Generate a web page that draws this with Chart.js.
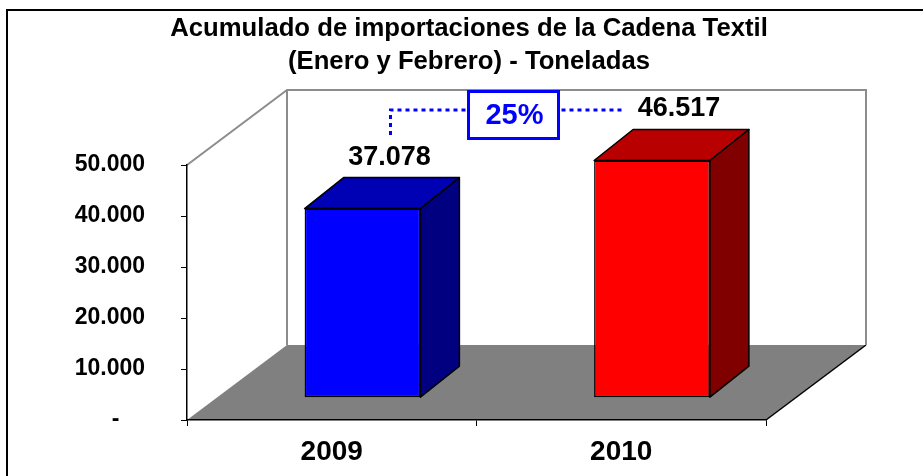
<!DOCTYPE html>
<html>
<head>
<meta charset="utf-8">
<script src="https://cdn.jsdelivr.net/npm/chart.js@4/dist/chart.umd.min.js"></script>
<style>
  html, body { margin: 0; padding: 0; background: #fff; }
  canvas { display: block; }
</style>
</head>
<body>
<canvas id="importChart" width="923" height="476"></canvas>
<script>
const years = ['2009', '2010'];
const toneladas = [37078, 46517];
const yTicks = [0, 10000, 20000, 30000, 40000, 50000];
const titleLines = ['Acumulado de importaciones de la Cadena Textil', '(Enero y Febrero) - Toneladas'];

const frontColors = ['#0000FF', '#FF0000'];
const topColors = ['#0000B4', '#B80000'];
const sideColors = ['#000080', '#800000'];

const FONT = "'Liberation Sans', Arial, sans-serif";
// 3D offsets (Excel style perspective)
const FRONT_DX = 30.75, FRONT_DY = -22.3;   // bars stand inside the floor
const BAR_DX = 39, BAR_DY = -31;            // depth of each bar
const WALL_DX = 100, WALL_DY = -75;         // depth of walls / floor

function fmt(v) {
    if (v === 0) return '-    ';
    return String(v).replace(/\B(?=(\d{3})+(?!\d))/g, '.');
}

function poly(ctx, pts) {
    ctx.beginPath();
    ctx.moveTo(pts[0][0], pts[0][1]);
    for (let i = 1; i < pts.length; i++) ctx.lineTo(pts[i][0], pts[i][1]);
    ctx.closePath();
}

const scene3d = {
    id: 'scene3d',
    beforeDraw(chart) {
        const { ctx, chartArea: a, scales: { y } } = chart;
        const top = y.getPixelForValue(yTicks[yTicks.length - 1]);
        ctx.save();

        // frame
        ctx.strokeStyle = '#000';
        ctx.lineWidth = 2;
        ctx.beginPath();
        ctx.moveTo(7, chart.height);
        ctx.lineTo(7, 10);
        ctx.lineTo(chart.width, 10);
        ctx.stroke();

        // title
        ctx.fillStyle = '#000';
        ctx.font = 'bold 25.7px ' + FONT;
        ctx.textAlign = 'center';
        ctx.textBaseline = 'alphabetic';
        ctx.fillText(titleLines[0], 469, 36);
        ctx.fillText(titleLines[1], 469, 68.5);

        // floor
        ctx.fillStyle = '#808080';
        poly(ctx, [[a.left, a.bottom], [a.left + WALL_DX, a.bottom + WALL_DY],
                   [a.right + WALL_DX, a.bottom + WALL_DY], [a.right, a.bottom]]);
        ctx.fill();
        ctx.strokeStyle = '#000';
        ctx.lineWidth = 1.5;
        ctx.beginPath();
        ctx.moveTo(a.right, a.bottom);
        ctx.lineTo(a.right + WALL_DX, a.bottom + WALL_DY);
        ctx.stroke();

        // walls
        ctx.strokeStyle = '#8c8c8c';
        ctx.lineWidth = 2;
        ctx.beginPath();
        ctx.moveTo(a.left, top);
        ctx.lineTo(a.left + WALL_DX, top + WALL_DY);
        ctx.lineTo(a.right + WALL_DX, top + WALL_DY);
        ctx.lineTo(a.right + WALL_DX, a.bottom + WALL_DY);
        ctx.moveTo(a.left + WALL_DX, top + WALL_DY);
        ctx.lineTo(a.left + WALL_DX, a.bottom + WALL_DY);
        ctx.stroke();
        ctx.restore();
    },
    beforeDatasetsDraw(chart) {
        chart.ctx.save();
        chart.ctx.translate(FRONT_DX, FRONT_DY);
    },
    afterDatasetsDraw(chart) {
        const { ctx, scales: { x, y } } = chart;
        ctx.restore();
        const meta = chart.getDatasetMeta(0);
        const labelPos = [];

        meta.data.forEach((bar, i) => {
            const p = bar.getProps(['x', 'y', 'base', 'width'], true);
            const l = p.x - p.width / 2 + FRONT_DX;
            const r = p.x + p.width / 2 + FRONT_DX;
            const t = p.y + FRONT_DY;
            const b = p.base + FRONT_DY;
            ctx.save();
            ctx.strokeStyle = '#000';
            ctx.lineWidth = 1.5;
            ctx.lineJoin = 'round';
            ctx.fillStyle = topColors[i];
            poly(ctx, [[l, t], [r, t], [r + BAR_DX, t + BAR_DY], [l + BAR_DX, t + BAR_DY]]);
            ctx.fill(); ctx.stroke();
            ctx.fillStyle = sideColors[i];
            poly(ctx, [[r, t], [r + BAR_DX, t + BAR_DY], [r + BAR_DX, b + BAR_DY], [r, b]]);
            ctx.fill(); ctx.stroke();

            // value label
            const lx = p.x + FRONT_DX + 27;
            const ly = t + BAR_DY - 20.5;
            ctx.fillStyle = '#000';
            ctx.font = 'bold 27px ' + FONT;
            ctx.textAlign = 'center';
            ctx.textBaseline = 'middle';
            const txt = fmt(toneladas[i]);
            ctx.fillText(txt, lx, ly);
            labelPos.push({ x: lx, y: ly, w: ctx.measureText(txt).width });
            ctx.restore();
        });

        // growth box
        const pct = Math.round((toneladas[1] / toneladas[0] - 1) * 100) + '%';
        const cx = (x.getPixelForValue(0) + x.getPixelForValue(1)) / 2 + 37;
        const boxTop = y.getPixelForValue(yTicks[yTicks.length - 1]) + WALL_DY;
        const bw = 90, bh = 47;
        ctx.save();
        ctx.strokeStyle = '#0000FF';
        ctx.lineWidth = 3;
        ctx.fillStyle = '#fff';
        ctx.fillRect(cx - bw / 2, boxTop + 1.5, bw, bh);
        ctx.strokeRect(cx - bw / 2, boxTop + 1.5, bw, bh);
        ctx.fillStyle = '#0000FF';
        ctx.font = 'bold 29px ' + FONT;
        ctx.textAlign = 'center';
        ctx.textBaseline = 'middle';
        ctx.fillText(pct, cx + 1, boxTop + 26);

        const ly = boxTop + 20;
        ctx.setLineDash([4, 4]);
        ctx.lineWidth = 3;
        ctx.beginPath();
        ctx.moveTo(cx - bw / 2 - 3, ly);
        ctx.lineTo(labelPos[0].x + 1, ly);
        ctx.lineTo(labelPos[0].x + 1, labelPos[0].y - 19.5);
        ctx.moveTo(cx + bw / 2 + 3, ly);
        ctx.lineTo(labelPos[1].x - labelPos[1].w / 2 - 16, ly);
        ctx.stroke();
        ctx.restore();
    }
};

new Chart(document.getElementById('importChart'), {
    type: 'bar',
    data: {
        labels: years,
        datasets: [{
            data: toneladas,
            backgroundColor: frontColors,
            borderColor: '#000',
            borderWidth: 1.5,
            borderSkipped: false,
            barPercentage: 0.4,
            categoryPercentage: 1,
            clip: false
        }]
    },
    options: {
        responsive: false,
        animation: false,
        layout: { padding: { top: 165, right: 157, left: 0, bottom: 0 } },
        plugins: { legend: { display: false }, tooltip: { enabled: false } },
        scales: {
            x: {
                grid: { drawOnChartArea: false, drawTicks: true, tickLength: 6, color: '#000', offset: true },
                border: { color: '#000', width: 1.5 },
                ticks: { color: '#000', font: { family: FONT, size: 28, weight: 'bold' }, padding: 9 },
                afterFit(s) { s.height = 56; }
            },
            y: {
                min: 0,
                max: 50000,
                afterBuildTicks(s) { s.ticks = yTicks.map(v => ({ value: v })); },
                grid: { drawOnChartArea: false, drawTicks: true, tickLength: 6, color: '#000' },
                border: { color: '#000', width: 1.5 },
                ticks: { color: '#000', font: { family: FONT, size: 23, weight: 'bold' }, padding: 36, callback: v => fmt(v) },
                afterFit(s) { s.width = 187; }
            }
        }
    },
    plugins: [scene3d]
});
</script>
</body>
</html>
